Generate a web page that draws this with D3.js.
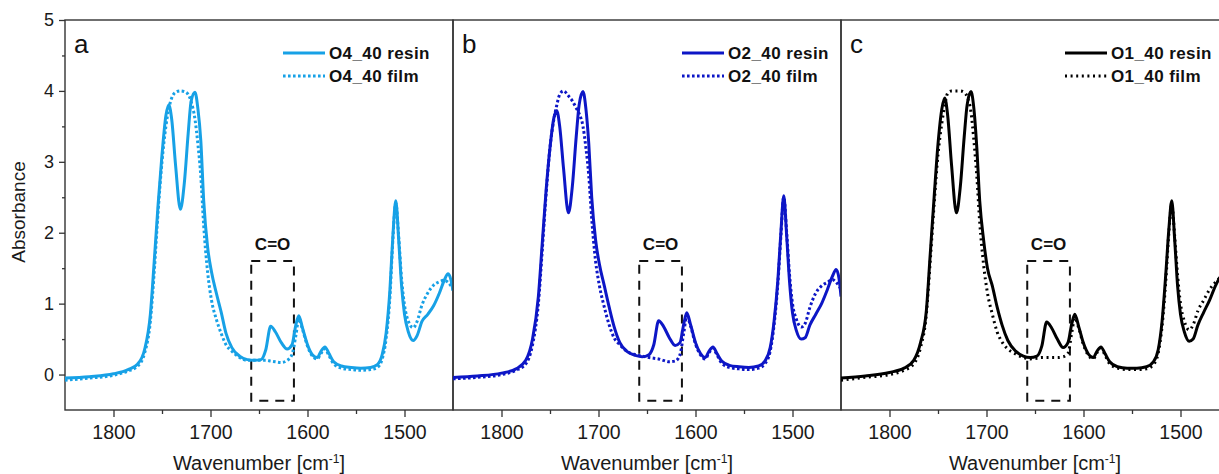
<!DOCTYPE html>
<html>
<head>
<meta charset="utf-8">
<script src="https://cdn.jsdelivr.net/npm/d3@7"></script>
<style>
  body { margin: 0; background: #fff; }
  svg { display: block; font-family: "Liberation Sans", Arial, sans-serif; }
</style>
</head>
<body>
<svg id="chart"></svg>
<script>
// wavenumber grid shared by all spectra (cm-1)
const wavenumber = [1850, 1825, 1800, 1785, 1775, 1768, 1762, 1758, 1754, 1750, 1746, 1743, 1740, 1736, 1731, 1727, 1723, 1720, 1716, 1713, 1710, 1707, 1703, 1699, 1694, 1689, 1684, 1678, 1670, 1662, 1655, 1648, 1643, 1638, 1633, 1627, 1621, 1616, 1612, 1609, 1605, 1600, 1595, 1590, 1586, 1582, 1578, 1573, 1565, 1555, 1545, 1535, 1528, 1523, 1519, 1515, 1512, 1509, 1506, 1503, 1500, 1496, 1491, 1487, 1482, 1476, 1470, 1464, 1459, 1455, 1452, 1450];

const resinO4 = [-0.05, -0.03, 0.01, 0.07, 0.15, 0.35, 0.85, 1.6, 2.4, 3.1, 3.65, 3.8, 3.6, 2.95, 2.33, 2.7, 3.4, 3.85, 3.98, 3.75, 3.3, 2.45, 1.8, 1.45, 1.15, 0.88, 0.58, 0.38, 0.26, 0.21, 0.2, 0.21, 0.35, 0.68, 0.6, 0.45, 0.36, 0.42, 0.7, 0.83, 0.65, 0.42, 0.28, 0.24, 0.33, 0.39, 0.3, 0.18, 0.12, 0.1, 0.09, 0.1, 0.14, 0.28, 0.58, 1.2, 1.95, 2.45, 1.9, 1.25, 0.85, 0.6, 0.48, 0.55, 0.75, 0.85, 0.97, 1.15, 1.33, 1.42, 1.33, 1.18];
const filmO4 = [-0.08, -0.05, -0.01, 0.05, 0.12, 0.3, 0.75, 1.45, 2.3, 3.0, 3.5, 3.75, 3.9, 3.98, 4.0, 3.99, 3.95, 3.85, 3.6, 3.25, 2.8, 2.1, 1.45, 1.05, 0.78, 0.58, 0.42, 0.33, 0.24, 0.2, 0.2, 0.2, 0.2, 0.19, 0.18, 0.17, 0.2, 0.28, 0.55, 0.78, 0.63, 0.4, 0.26, 0.22, 0.3, 0.36, 0.27, 0.15, 0.09, 0.07, 0.06, 0.07, 0.1, 0.22, 0.5, 1.1, 1.9, 2.42, 1.95, 1.35, 0.98, 0.75, 0.66, 0.75, 0.98, 1.15, 1.26, 1.31, 1.33, 1.3, 1.25, 1.2];

const resinO2 = [-0.04, -0.02, 0.02, 0.08, 0.2, 0.5, 1.1, 1.85, 2.6, 3.2, 3.62, 3.72, 3.5, 2.9, 2.28, 2.65, 3.35, 3.8, 3.99, 3.75, 3.25, 2.5, 1.9, 1.55, 1.25, 0.95, 0.68, 0.45, 0.32, 0.27, 0.25, 0.28, 0.42, 0.76, 0.68, 0.52, 0.41, 0.45, 0.72, 0.87, 0.7, 0.45, 0.3, 0.24, 0.33, 0.39, 0.3, 0.19, 0.13, 0.11, 0.1, 0.12, 0.2, 0.38, 0.75, 1.35, 2.0, 2.52, 1.95, 1.3, 0.87, 0.62, 0.5, 0.52, 0.7, 0.85, 1.0, 1.2, 1.38, 1.48, 1.35, 1.1];
const filmO2 = [-0.06, -0.04, 0.0, 0.06, 0.15, 0.42, 1.0, 1.75, 2.55, 3.2, 3.6, 3.8, 3.95, 4.0, 3.93, 3.86, 3.76, 3.68, 3.5, 3.2, 2.8, 2.2, 1.6, 1.25, 0.95, 0.7, 0.52, 0.42, 0.32, 0.28, 0.26, 0.24, 0.23, 0.22, 0.2, 0.18, 0.19, 0.28, 0.6, 0.82, 0.68, 0.43, 0.28, 0.22, 0.31, 0.37, 0.28, 0.16, 0.1, 0.08, 0.07, 0.09, 0.16, 0.33, 0.7, 1.3, 1.95, 2.5, 2.0, 1.4, 1.0, 0.78, 0.67, 0.72, 0.95, 1.15, 1.25, 1.3, 1.34, 1.3, 1.25, 1.2];

const resinO1 = [-0.05, -0.02, 0.03, 0.09, 0.2, 0.45, 0.9, 1.7, 2.5, 3.25, 3.75, 3.9, 3.65, 2.95, 2.28, 2.65, 3.35, 3.8, 3.99, 3.75, 3.2, 2.45, 1.9, 1.5, 1.25, 0.95, 0.7, 0.48, 0.33, 0.26, 0.24, 0.26, 0.4, 0.74, 0.66, 0.5, 0.38, 0.45, 0.72, 0.85, 0.68, 0.44, 0.29, 0.24, 0.33, 0.39, 0.3, 0.18, 0.11, 0.09, 0.09, 0.11, 0.18, 0.35, 0.75, 1.45, 2.05, 2.45, 1.9, 1.25, 0.85, 0.6, 0.47, 0.5, 0.7, 0.88, 1.05, 1.25, 1.38, 1.45, 1.3, 1.15];
const filmO1 = [-0.08, -0.04, 0.0, 0.06, 0.15, 0.38, 0.85, 1.6, 2.4, 3.1, 3.55, 3.8, 3.97, 4.0, 4.0, 4.0, 3.98, 3.92, 3.7, 3.3, 2.8, 2.15, 1.55, 1.15, 0.85, 0.6, 0.46, 0.36, 0.29, 0.24, 0.22, 0.23, 0.24, 0.24, 0.24, 0.24, 0.25, 0.3, 0.6, 0.8, 0.66, 0.42, 0.27, 0.22, 0.31, 0.37, 0.28, 0.15, 0.09, 0.07, 0.07, 0.08, 0.14, 0.3, 0.68, 1.35, 2.0, 2.4, 1.95, 1.4, 1.0, 0.75, 0.63, 0.7, 0.9, 1.05, 1.2, 1.3, 1.36, 1.34, 1.3, 1.25];

const panelLetters = ["a", "b", "c"];
const resinNames = ["O4_40 resin", "O2_40 resin", "O1_40 resin"];
const filmNames = ["O4_40 film", "O2_40 film", "O1_40 film"];
const xTicks = [1800, 1700, 1600, 1500];
const xMinorTicks = [1750, 1650, 1550];
const yTicks = [0, 1, 2, 3, 4, 5];
const yMinorTicks = [0.5, 1.5, 2.5, 3.5, 4.5];
const boxWavenumber = [1658, 1614];
const boxAbsorbance = [1.6, -0.37];
const boxLabel = "C=O";

const panels = [
  { resin: resinO4, film: filmO4, color: "#17a1e6", left: 65, legendX: 218, dots: "2.6 2.4" },
  { resin: resinO2, film: filmO2, color: "#0d16c6", left: 453, legendX: 229, dots: "2.6 2.4" },
  { resin: resinO1, film: filmO1, color: "#000000", left: 841, legendX: 224, dots: "2 3.6" }
];

const W = 1219, H = 474;
const marginTop = 20, plotW = 388, plotH = 390;
const axisColor = "#333";

const svg = d3.select("#chart").attr("width", W).attr("height", H);

const x = d3.scaleLinear().domain([1850, 1450]).range([0, plotW]);
const y = d3.scaleLinear().domain([-0.5, 5]).range([plotH, 0]);

const line = d3.line()
  .x(d => x(d[0]))
  .y(d => y(d[1]))
  .curve(d3.curveMonotoneX);

panels.forEach(function (p, i) {
  const g = svg.append("g").attr("transform", `translate(${p.left},${marginTop})`);

  g.append("clipPath").attr("id", "clip" + i)
    .append("rect").attr("width", plotW).attr("height", plotH);

  // bottom axis, major + minor ticks
  const xAxis = g.append("g")
    .attr("transform", `translate(0,${plotH})`)
    .call(d3.axisBottom(x).tickValues(xTicks).tickSize(7).tickPadding(8).tickFormat(d3.format("d")));
  xAxis.select(".domain").remove();
  xAxis.selectAll("line").attr("stroke", axisColor).attr("stroke-width", 1.3);
  xAxis.selectAll("text").attr("fill", "#1a1a1a").style("font-size", "19.5px");

  const xMinor = g.append("g")
    .attr("transform", `translate(0,${plotH})`)
    .call(d3.axisBottom(x).tickValues(xMinorTicks).tickSize(4).tickFormat(""));
  xMinor.select(".domain").remove();
  xMinor.selectAll("line").attr("stroke", axisColor).attr("stroke-width", 1.3);

  if (i === 0) {
    const yAxis = g.append("g")
      .call(d3.axisLeft(y).tickValues(yTicks).tickSize(6).tickPadding(5).tickFormat(d3.format("d")));
    yAxis.select(".domain").remove();
    yAxis.selectAll("line").attr("stroke", axisColor).attr("stroke-width", 1.3);
    yAxis.selectAll("text").attr("fill", "#1a1a1a").style("font-size", "18px");

    const yMinor = g.append("g")
      .call(d3.axisLeft(y).tickValues(yMinorTicks).tickSize(3).tickFormat(""));
    yMinor.select(".domain").remove();
    yMinor.selectAll("line").attr("stroke", axisColor).attr("stroke-width", 1.3);
  }

  // frame
  g.append("rect")
    .attr("width", plotW).attr("height", plotH)
    .attr("fill", "none").attr("stroke", axisColor).attr("stroke-width", 1.4);

  const plot = g.append("g").attr("clip-path", `url(#clip${i})`);

  // C=O dashed box
  plot.append("rect")
    .attr("x", x(boxWavenumber[0]))
    .attr("y", y(boxAbsorbance[0]))
    .attr("width", x(boxWavenumber[1]) - x(boxWavenumber[0]))
    .attr("height", y(boxAbsorbance[1]) - y(boxAbsorbance[0]))
    .attr("fill", "none")
    .attr("stroke", "#111")
    .attr("stroke-width", 2)
    .attr("stroke-dasharray", "9 7");

  g.append("text")
    .attr("x", (x(boxWavenumber[0]) + x(boxWavenumber[1])) / 2)
    .attr("y", y(boxAbsorbance[0]) - 11)
    .attr("text-anchor", "middle")
    .style("font-size", "17px")
    .style("font-weight", "bold")
    .attr("fill", "#111")
    .text(boxLabel);

  // spectra
  const filmPts = wavenumber.map((w, k) => [w, p.film[k]]);
  const resinPts = wavenumber.map((w, k) => [w, p.resin[k]]);

  plot.append("path")
    .attr("d", line(filmPts))
    .attr("fill", "none")
    .attr("stroke", p.color)
    .attr("stroke-width", 3)
    .attr("stroke-dasharray", p.dots);

  plot.append("path")
    .attr("d", line(resinPts))
    .attr("fill", "none")
    .attr("stroke", p.color)
    .attr("stroke-width", 3);

  // panel letter
  g.append("text")
    .attr("x", 9)
    .attr("y", 33)
    .style("font-size", "26px")
    .attr("fill", "#111")
    .text(panelLetters[i]);

  // legend
  const rows = [
    { name: resinNames[i], dash: null, y: 33 },
    { name: filmNames[i], dash: p.dots, y: 56 }
  ];
  rows.forEach(function (r) {
    g.append("line")
      .attr("x1", p.legendX).attr("x2", p.legendX + 42)
      .attr("y1", r.y).attr("y2", r.y)
      .attr("stroke", p.color)
      .attr("stroke-width", 3)
      .attr("stroke-dasharray", r.dash);
    g.append("text")
      .attr("x", p.legendX + 46)
      .attr("y", r.y)
      .attr("dy", "0.36em")
      .style("font-size", "17px")
      .style("font-weight", "bold")
      .style("letter-spacing", "0.4px")
      .attr("fill", "#111")
      .text(r.name);
  });

  // x axis title
  const title = g.append("text")
    .attr("x", plotW / 2)
    .attr("y", 450)
    .attr("text-anchor", "middle")
    .style("font-size", "20px")
    .attr("fill", "#1a1a1a");
  title.append("tspan").text("Wavenumber [cm");
  title.append("tspan").attr("dy", -7).style("font-size", "12px").text("-1");
  title.append("tspan").attr("dy", 7).text("]");
});

// y axis title
svg.append("text")
  .attr("transform", "translate(25,212) rotate(-90)")
  .attr("text-anchor", "middle")
  .style("font-size", "19px")
  .attr("fill", "#1a1a1a")
  .text("Absorbance");
</script>
</body>
</html>
